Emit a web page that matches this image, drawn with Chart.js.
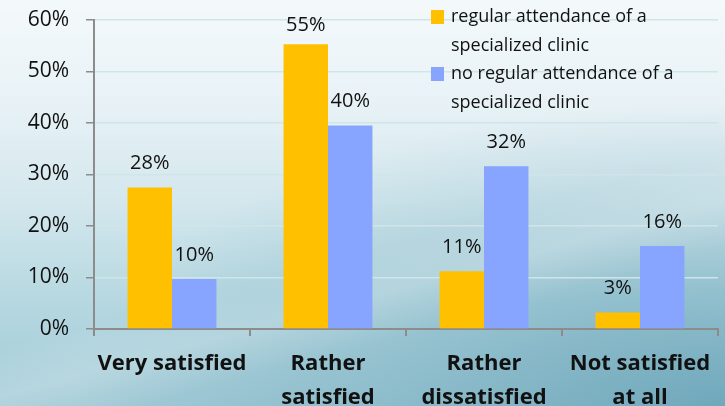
<!DOCTYPE html>
<html>
<head>
<meta charset="utf-8">
<script src="https://cdn.jsdelivr.net/npm/chart.js@4"></script>
<style>
  html, body { margin: 0; padding: 0; }
  #wrap {
    position: relative; width: 725px; height: 406px; overflow: hidden;
    background:
      linear-gradient(165deg, rgba(255,255,255,0) 58%, rgba(255,255,255,0.18) 66%, rgba(255,255,255,0) 74%),
      radial-gradient(ellipse 90% 75% at 100% 100%, rgba(70,140,165,0.55) 0%, rgba(70,140,165,0.25) 50%, rgba(70,140,165,0) 100%),
      linear-gradient(180deg, #f4f9fb 0%, #e8f2f6 25%, #d3e7ed 50%, #b5d7e0 75%, #a3cbd7 100%);
  }
  canvas { display: block; }
</style>
</head>
<body>
<div id="wrap"><canvas id="c" width="725" height="406"></canvas></div>
<script>
const categories = [['Very satisfied'], ['Rather', 'satisfied'], ['Rather', 'dissatisfied'], ['Not satisfied', 'at all']];
const regularAttendance = [27.5, 55.3, 11.2, 3.2];
const noRegularAttendance = [9.7, 39.5, 31.6, 16.1];
const seriesNames = [['regular attendance of a', 'specialized clinic'], ['no regular attendance of a', 'specialized clinic']];
const yTicks = [0, 10, 20, 30, 40, 50, 60];

const ORANGE = '#FFC000';
const BLUE = '#87A5FF';
const TEXT = '#111111';
const AXIS = '#8c8c8c';
const FONT = '"Open Sans"';

const valueLabels = {
  id: 'valueLabels',
  afterDatasetsDraw(chart) {
    const ctx = chart.ctx;
    ctx.save();
    ctx.font = '20px ' + FONT;
    ctx.fillStyle = TEXT;
    ctx.textAlign = 'center';
    ctx.textBaseline = 'middle';
    chart.data.datasets.forEach((ds, i) => {
      chart.getDatasetMeta(i).data.forEach((bar, j) => {
        const y = Math.max(bar.y - 24, 25);
        ctx.fillText(Math.round(ds.data[j]) + '%', bar.x, y);
      });
    });
    ctx.restore();
  }
};

const customLegend = {
  id: 'customLegend',
  afterDraw(chart) {
    const ctx = chart.ctx;
    ctx.save();
    ctx.font = '18px ' + FONT;
    ctx.textAlign = 'left';
    ctx.textBaseline = 'middle';
    const tops = [17, 74];
    chart.data.datasets.forEach((ds, i) => {
      const yc = tops[i];
      ctx.fillStyle = ds.backgroundColor;
      ctx.fillRect(431, yc - 7, 13, 14);
      ctx.fillStyle = TEXT;
      seriesNames[i].forEach((line, k) => ctx.fillText(line, 451, yc + k * 29));
    });
    ctx.restore();
  }
};

new Chart(document.getElementById('c'), {
  type: 'bar',
  data: {
    labels: categories,
    datasets: [
      { label: seriesNames[0].join(' '), data: regularAttendance, backgroundColor: ORANGE },
      { label: seriesNames[1].join(' '), data: noRegularAttendance, backgroundColor: BLUE }
    ]
  },
  options: {
    responsive: false,
    animation: false,
    layout: { padding: { top: 20, right: 7, left: 0, bottom: 0 } },
    datasets: { bar: { categoryPercentage: 0.57, barPercentage: 1.0 } },
    plugins: { legend: { display: false }, tooltip: { enabled: false } },
    scales: {
      x: {
        afterFit(s) { s.height = 77; },
        grid: { offset: true, drawOnChartArea: false, tickLength: 7, tickColor: AXIS, lineWidth: 2 },
        border: { color: AXIS, width: 2 },
        ticks: { color: TEXT, font: { family: FONT, size: 22, weight: 'bold', lineHeight: 1.55 }, padding: 11, maxRotation: 0, autoSkip: false }
      },
      y: {
        min: 0, max: 60,
        afterFit(s) { s.width = 94; },
        afterBuildTicks(s) { s.ticks = yTicks.map(v => ({ value: v })); },
        grid: {
          color: (c) => (c.tick && c.tick.value === 0) ? 'rgba(0,0,0,0)' : '#cfe5ea',
          lineWidth: 1.5, tickLength: 8, tickColor: AXIS
        },
        border: { color: AXIS, width: 2 },
        ticks: { color: TEXT, font: { family: FONT, size: 21, lineHeight: 0.1 }, padding: 17, callback: (v) => v + '%' }
      }
    }
  },
  plugins: [valueLabels, customLegend]
});
</script>
</body>
</html>
